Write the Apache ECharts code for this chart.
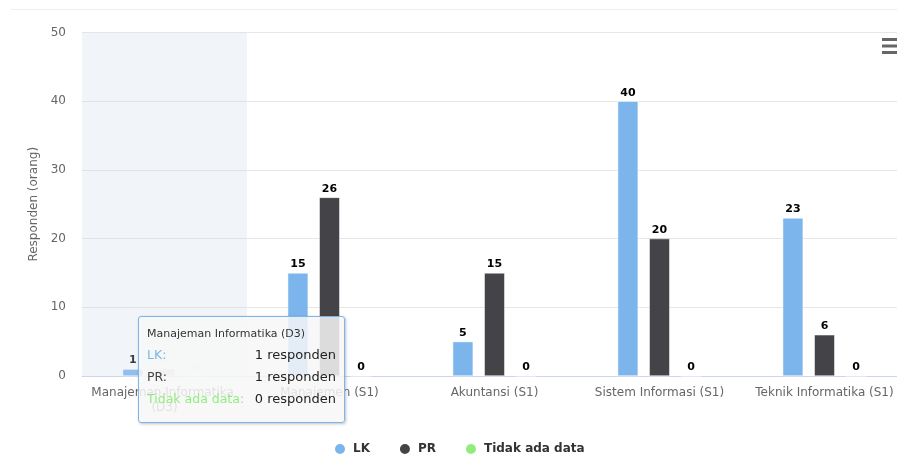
<!DOCTYPE html>
<html>
<head>
<meta charset="utf-8">
<script src="https://cdn.jsdelivr.net/npm/echarts@6/dist/echarts.min.js"></script>
<style>
html,body{margin:0;padding:0;background:#fff;}
#c{width:897px;height:457px;}
</style>
</head>
<body>
<div id="c"></div>
<script>
const categories = ["Manajeman Informatika (D3)", "Manajemen (S1)", "Akuntansi (S1)", "Sistem Informasi (S1)", "Teknik Informatika (S1)"];
const lkValues = [1, 15, 5, 40, 23];
const prValues = [1, 26, 15, 20, 6];
const tidakValues = [0, 0, 0, 0, 0];
const yTicks = [0, 10, 20, 30, 40, 50];
const seriesNames = ["LK", "PR", "Tidak ada data"];
const seriesColors = ["#7cb5ec", "#434348", "#90ed7d"];
const hoverIndex = 0;

const FONT = '"DejaVu Sans", Verdana, sans-serif';
const chart = echarts.init(document.getElementById('c'), null, {renderer: 'canvas'});

function buildData(values, fadeHovered) {
  return values.map((v, i) => {
    if (fadeHovered && i === hoverIndex) {
      return {value: v, itemStyle: {opacity: 0.25}, label: {color: 'rgba(0,0,0,0.25)', textBorderWidth: 0}};
    }
    return v;
  });
}

const allSeries = [lkValues, prValues, tidakValues].map((vals, si) => ({
  name: seriesNames[si],
  type: 'bar',
  data: buildData(vals, si > 0),
  barWidth: 20.5,
  barGap: '54%',
  itemStyle: {color: seriesColors[si], borderColor: '#fff', borderWidth: 0.5},
  label: {
    show: true, position: 'top', distance: 3,
    fontFamily: FONT, fontSize: 11, fontWeight: 'bold', color: '#000',
    textBorderColor: '#fff', textBorderWidth: 2
  },
  emphasis: {disabled: true}
}));

const option = {
  animation: false,
  textStyle: {fontFamily: FONT},
  grid: {left: 82, top: 32.5, width: 825, height: 343.5, containLabel: false, outerBoundsMode: 'none'},
  xAxis: {
    type: 'category',
    data: categories,
    axisLine: {lineStyle: {color: '#ccd6eb', width: 1}},
    axisTick: {show: false},
    axisLabel: {
      interval: 0,
      color: '#666', fontSize: 12, fontFamily: FONT, margin: 9,
      width: 160, overflow: 'break', lineHeight: 15
    },
    axisPointer: {type: 'shadow', shadowStyle: {color: 'rgba(204,214,235,0.28)'}}
  },
  yAxis: {
    type: 'value',
    min: 0, max: 50, interval: 10,
    name: 'Responden (orang)',
    nameLocation: 'middle',
    nameGap: 42,
    nameTextStyle: {color: '#666', fontSize: 12, fontFamily: FONT},
    axisLabel: {color: '#666', fontSize: 12, fontFamily: FONT, margin: 16,
      formatter: v => yTicks.includes(v) ? String(v) : ''},
    splitLine: {lineStyle: {color: '#e6e6e6'}},
    axisLine: {show: false},
    axisTick: {show: false}
  },
  legend: {
    data: seriesNames,
    left: 328, top: 437,
    icon: 'circle', itemWidth: 12, itemHeight: 12, itemGap: 28,
    textStyle: {color: '#333', fontSize: 12, fontWeight: 'bold', fontFamily: FONT, padding: [0, 0, 0, 2]}
  },
  tooltip: {
    trigger: 'axis',
    triggerOn: 'none',
    alwaysShowContent: true,
    position: [138, 316],
    backgroundColor: 'rgba(247,247,247,0.85)',
    borderColor: '#7cb5ec',
    borderWidth: 1,
    padding: [6, 8, 13, 8],
    extraCssText: 'border-radius:3px;box-shadow:1px 1px 3px rgba(0,0,0,0.25);width:189px;',
    formatter: function (params) {
      const ff = FONT.replace(/"/g, "'");
      let html = '<div style="font-family:' + ff + ';font-size:11px;line-height:14px;color:#333;margin:4px 0 2px 0;">' + params[0].name + '</div>';
      html += '<table style="border-collapse:collapse;width:100%;font-family:' + ff + ';">';
      params.forEach(p => {
        html += '<tr><td style="color:' + seriesColors[p.seriesIndex] + ';font-size:12.5px;padding:0;height:22px;white-space:nowrap;">' + p.seriesName + ':</td>' +
          '<td style="text-align:right;font-size:13px;color:#222;padding:0;white-space:nowrap;">' + p.value + ' responden</td></tr>';
      });
      html += '</table>';
      return html;
    }
  },
  graphic: [
    {type: 'line', shape: {x1: 11, y1: 9.5, x2: 897, y2: 9.5}, style: {stroke: '#eeeeee', lineWidth: 1}, silent: true},
    {type: 'rect', shape: {x: 882, y: 38, width: 16, height: 3}, style: {fill: '#666'}, silent: true},
    {type: 'rect', shape: {x: 882, y: 44.5, width: 16, height: 3}, style: {fill: '#666'}, silent: true},
    {type: 'rect', shape: {x: 882, y: 51, width: 16, height: 3}, style: {fill: '#666'}, silent: true}
  ],
  series: allSeries
};

chart.setOption(option);
chart.dispatchAction({type: 'showTip', seriesIndex: 0, dataIndex: hoverIndex});
</script>
</body>
</html>
